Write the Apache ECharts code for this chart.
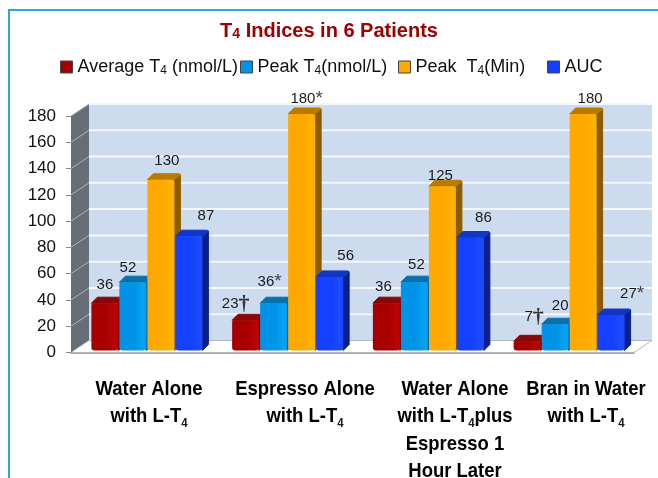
<!DOCTYPE html>
<html>
<head>
<meta charset="utf-8">
<style>
  html, body { margin: 0; padding: 0; background: #fff; }
  #chart { width: 658px; height: 478px; }
</style>
<script src="https://cdn.jsdelivr.net/npm/echarts@6/dist/echarts.min.js"></script>
</head>
<body>
<div id="chart"></div>
<script>
const categories = ['Water Alone\nwith L-T4', 'Espresso Alone\nwith L-T4', 'Water Alone\nwith L-T4 plus\nEspresso 1\nHour Later', 'Bran in Water\nwith L-T4']
const yTicks = [0, 20, 40, 60, 80, 100, 120, 140, 160, 180]

const seriesNames = ['Average T4 (nmol/L)', 'Peak T4(nmol/L)', 'Peak  T4(Min)', 'AUC']
const averageT4 = [36, 23, 36, 7]
const peakT4 = [52, 36, 52, 20]
const peakMin = [130, 180, 125, 180]
const auc = [87, 56, 86, 27]
const seriesValues = [averageT4, peakT4, peakMin, auc]

// footnote marks after the value labels
const averageMarks = ['', '†', '', '†']
const peakMarks = ['', '*', '', '']
const peakMinMarks = ['', '*', '', '']
const aucMarks = ['', '', '', '*']
const seriesMarks = [averageMarks, peakMarks, peakMinMarks, aucMarks]

const colors = ['#a80000', '#0093e8', '#ffa800', '#1440ff']
const lightColors = ['#bc0404', '#08a4f4', '#ffb400', '#1c4cff']
const sideColors = ['#6a0505', '#005c96', '#8a5c00', '#0a2088']
const topColors = ['#860808', '#0a70aa', '#b87a00', '#1236c4']

// label offset from the top centre of each bar
const labelOffsets = [
  [[0, -20], [-10, -18], [-3, -18], [7, -26]],
  [[-5, -16], [-4, -23], [2, -19], [5, -20]],
  [[6, -21], [5, -17], [-2, -12], [7, -17]],
  [[17, -22], [16, -23], [13, -22], [21, -23]]
]
const legendLeft = [55, 235, 393, 542]
const categoryCenters = [149, 305, 455, 586]
const categoryTop = 375

const depthX = 18
const depthY = 12
const barPitch = 28
const barDepthX = 6
const barDepthY = 6

const sub = text => text.replace(/T4/g, 'T{s|4}')

function renderWall (params, api) {
  const g = params.coordSys
  const l = g.x, r = g.x + g.width, t = g.y, b = g.y + g.height
  return {
    type: 'group',
    children: [
      { type: 'rect', shape: { x: l + depthX, y: t - depthY, width: g.width, height: g.height }, style: { fill: '#cddbee' } },
      { type: 'polygon', shape: { points: [[l, t], [l + depthX, t - depthY], [l + depthX, b - depthY], [l, b]] }, style: { fill: '#676e78' } },
      { type: 'polygon', shape: { points: [[l, b], [l + depthX, b - depthY], [r + depthX, b - depthY], [r, b]] }, style: { fill: '#fff', stroke: '#b4b8bc', lineWidth: 1 } }
    ]
  }
}

function renderGridLine (params, api) {
  const g = params.coordSys
  const y = api.coord([0, api.value(1)])[1]
  if (api.value(1) === 0) return null
  return {
    type: 'group',
    children: [
      { type: 'line', shape: { x1: g.x, y1: y, x2: g.x + depthX, y2: y - depthY }, style: { stroke: '#aeb4bc', lineWidth: 1 } },
      { type: 'line', shape: { x1: g.x + depthX, y1: y - depthY, x2: g.x + g.width + depthX, y2: y - depthY }, style: { stroke: '#f4f7fb', lineWidth: 2 } }
    ]
  }
}

function barRenderer (s) {
  return function (params, api) {
    const i = params.dataIndex
    const top = api.coord([api.value(0), api.value(1)])
    const base = api.coord([api.value(0), 0])
    const x0 = top[0] + 6 + (s - 2) * barPitch
    const x1 = x0 + barPitch - 1
    const y0 = top[1] - 2
    const y1 = base[1] - 2
    const dx = barDepthX, dy = barDepthY
    const off = labelOffsets[s][i]
    const mark = seriesMarks[s][i]
    let markText = ''
    if (mark === '†') markText = '{d|†}'
    if (mark === '*') markText = '{a|*}'
    return {
      type: 'group',
      children: [
        { type: 'polygon', shape: { points: [[x1, y0], [x1 + dx, y0 - dy + 1], [x1 + dx, y1 - dy], [x1, y1]] }, style: { fill: sideColors[s], stroke: sideColors[s], lineWidth: 1, lineJoin: 'round' } },
        { type: 'polygon', shape: { points: [[x0, y0], [x0 + dx, y0 - dy], [x1 + dx - 1, y0 - dy], [x1 + dx, y0 - dy + 1], [x1, y0]] }, style: { fill: topColors[s], stroke: topColors[s], lineWidth: 1, lineJoin: 'round' } },
        {
          type: 'rect',
          shape: { x: x0, y: y0, width: x1 - x0, height: y1 - y0, r: [2, 2, 3, 3] },
          style: {
            fill: new echarts.graphic.LinearGradient(0, 0, 1, 0, [
              { offset: 0, color: colors[s] },
              { offset: 0.55, color: colors[s] },
              { offset: 0.92, color: lightColors[s] },
              { offset: 1, color: colors[s] }
            ])
          }
        },
        {
          type: 'text',
          z2: 20,
          style: {
            x: (x0 + x1) / 2 + off[0],
            y: y0 + 2 + off[1],
            text: api.value(1) + markText,
            align: 'center',
            verticalAlign: 'middle',
            fill: '#1a1a1a',
            font: '15px "Liberation Sans"',
            rich: {
              d: { fontSize: 22, fontWeight: 'bold', fill: '#333', fontFamily: 'Liberation Serif' },
              a: { fontSize: 19, fill: '#444', fontFamily: 'Liberation Sans', verticalAlign: 'top' }
            }
          }
        }
      ]
    }
  }
}

const series = [
  { type: 'custom', name: 'wall', silent: true, data: [[0, 0]], encode: { x: 0, y: 1 }, renderItem: renderWall, z: 1, clip: false },
  { type: 'custom', name: 'grid', silent: true, data: yTicks.map(v => [0, v]), encode: { x: 0, y: 1 }, renderItem: renderGridLine, z: 1, clip: false }
]
seriesNames.forEach((name, s) => {
  series.push({
    type: 'custom',
    name: name,
    data: seriesValues[s].map((v, i) => [i, v]),
    encode: { x: 0, y: 1 },
    renderItem: barRenderer(s),
    itemStyle: { color: colors[s] },
    z: 3,
    clip: false
  })
})

const legendRich = { s: { fontSize: 12, fontFamily: 'Liberation Sans', verticalAlign: 'bottom', padding: [7, 0, 0, 0] } }

const graphic = [
  { type: 'rect', shape: { x: 8, y: 9, width: 650, height: 2 }, style: { fill: '#2aa9d6' } },
  { type: 'rect', shape: { x: 8, y: 9, width: 2, height: 469 }, style: { fill: '#2aa9d6' } }
]
categories.forEach((c, i) => {
  graphic.push({
    type: 'text',
    x: categoryCenters[i],
    y: categoryTop,
    scaleX: 0.88,
    style: {
      text: sub(c).replace('{s|4} plus', '{s|4}plus'),
      align: 'center',
      fill: '#000',
      font: 'bold 21px "Liberation Sans"',
      lineHeight: 27.5,
      rich: { s: { fontSize: 13, fontWeight: 'bold', fontFamily: 'Liberation Sans', verticalAlign: 'bottom', fill: '#1a1a1a', lineHeight: 27.5 } }
    }
  })
})

const chart = echarts.init(document.getElementById('chart'), null, { renderer: 'canvas' })
chart.setOption({
  animation: false,
  backgroundColor: '#fff',
  title: {
    text: 'T{s|4} Indices in 6 Patients',
    left: 'center',
    top: 16,
    textStyle: {
      color: '#a00000',
      fontSize: 20,
      fontWeight: 'bold',
      fontFamily: 'Liberation Sans',
      rich: { s: { fontSize: 14, fontWeight: 'bold', color: '#a00000', fontFamily: 'Liberation Sans', verticalAlign: 'bottom' } }
    }
  },
  legend: seriesNames.map((name, i) => ({
    data: [name],
    left: legendLeft[i],
    top: 53,
    icon: 'rect',
    itemWidth: 12,
    itemHeight: 12,
    selectedMode: false,
    formatter: sub,
    itemStyle: { borderColor: '#444', borderWidth: 1 },
    textStyle: { color: '#111', fontSize: 18, fontFamily: 'Liberation Sans', rich: legendRich }
  })),
  grid: { left: 71, right: 24, top: 116, height: 236.5 },
  xAxis: {
    type: 'category',
    data: categories,
    axisTick: { show: false },
    axisLabel: { show: false },
    axisLine: { lineStyle: { color: '#a8acb0', width: 2 } }
  },
  yAxis: {
    type: 'value',
    min: 0,
    max: 180,
    interval: 20,
    splitLine: { show: false },
    axisLine: { show: true, lineStyle: { color: '#888', width: 1 } },
    axisTick: { show: true, length: 5, lineStyle: { color: '#888' } },
    axisLabel: { color: '#111', fontSize: 17, fontFamily: 'Liberation Sans', margin: 15 }
  },
  graphic: graphic,
  series: series
})
</script>
</body>
</html>
